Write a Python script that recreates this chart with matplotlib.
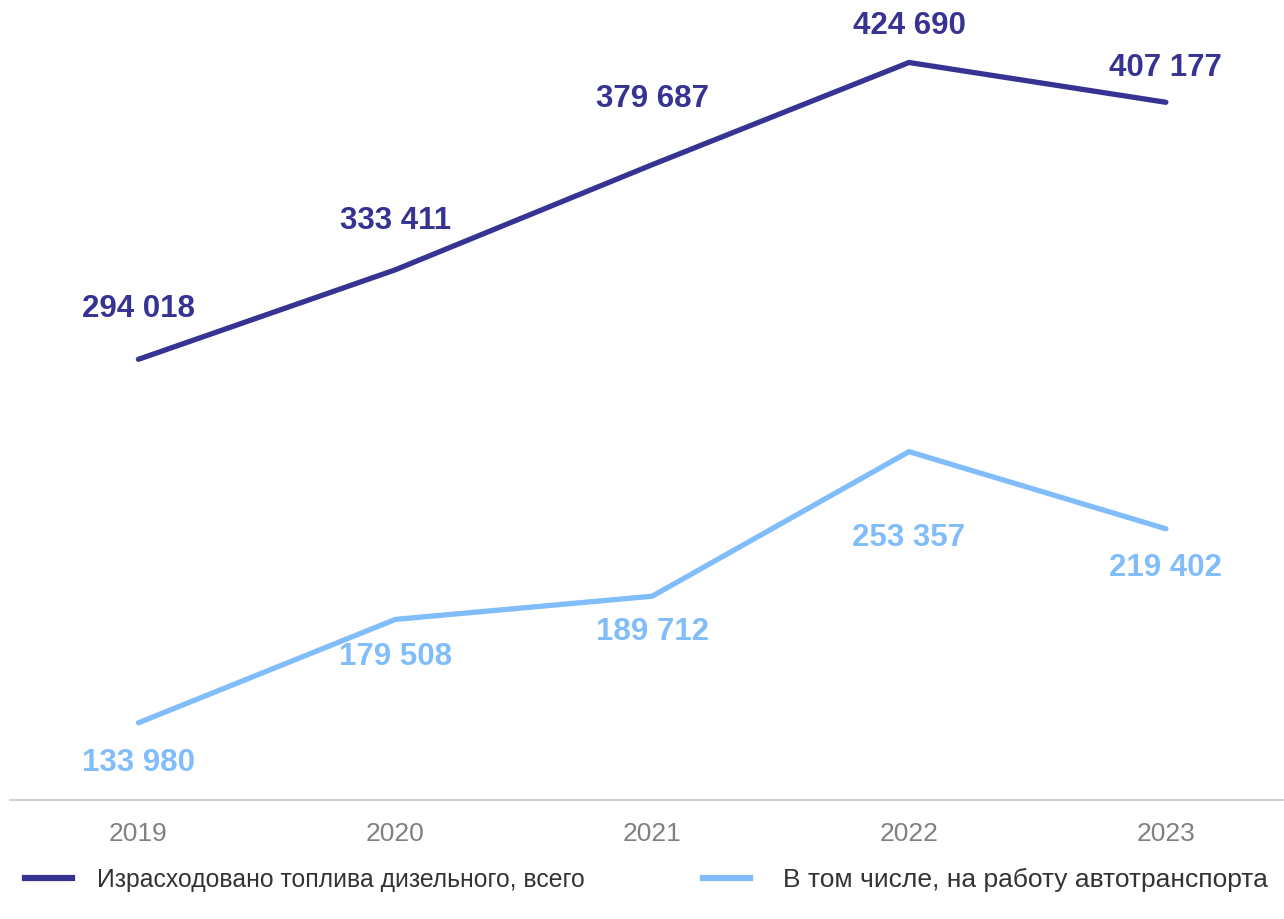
import numpy as np
import matplotlib.pyplot as plt

plt.rcParams['font.family'] = ['Liberation Sans', 'DejaVu Sans']

# Data
years = ['2019', '2020', '2021', '2022', '2023']
total = [294018, 333411, 379687, 424690, 407177]
trucks = [133980, 179508, 189712, 253357, 219402]

# label offsets in points (vertical), picked by eye
total_off = [36, 35, 47, 26, 25]
trucks_off = [-29, -27, -26, -62, -28]

dark = '#373393'
light = '#80bdfa'

fig = plt.figure(figsize=(12.84, 9.19), dpi=100)
ax = fig.add_axes([10 / 1284, 1 - 800 / 919, 1274 / 1284, 795 / 919])

x = np.arange(len(years))
ax.plot(x, total, color=dark, lw=3.8, solid_capstyle='round', solid_joinstyle='miter')
ax.plot(x, trucks, color=light, lw=3.8, solid_capstyle='round', solid_joinstyle='miter')

def fmt(v):
    return f'{v:,}'.replace(',', ' ')

for i in range(len(years)):
    ax.annotate(fmt(total[i]), (x[i], total[i]), xytext=(0, total_off[i]),
                textcoords='offset points', ha='center', va='center',
                fontsize=22.5, fontweight='bold', color=dark)
    ax.annotate(fmt(trucks[i]), (x[i], trucks[i]), xytext=(0, trucks_off[i]),
                textcoords='offset points', ha='center', va='center',
                fontsize=22.5, fontweight='bold', color=light)

ax.set_xlim(-0.5, 4.46)
ax.set_ylim(100000, 450000)
ax.set_xticks(x)
ax.set_xticklabels(years, fontsize=19, color='#808080')
ax.tick_params(axis='x', length=0, pad=16)
ax.set_yticks([])
for s in ['top', 'right', 'left']:
    ax.spines[s].set_visible(False)
ax.spines['bottom'].set_color('#c8c8c8')
ax.spines['bottom'].set_linewidth(1.2)

# legend drawn by hand in figure coords
def legend_item(x0, x1, xt, color, text, size):
    y = 1 - 878 / 919
    fig.add_artist(plt.Line2D([x0 / 1284, x1 / 1284], [y, y], color=color, lw=4.5))
    fig.text(xt / 1284, 1 - 880 / 919, text, fontsize=size, color='#333333',
             ha='left', va='center')

legend_item(25, 72, 97, dark, 'Израсходовано топлива дизельного, всего', 17.8)
legend_item(703, 750, 783, light, 'В том числе, на работу автотранспорта', 19)

fig.savefig('out.png', dpi=100)
